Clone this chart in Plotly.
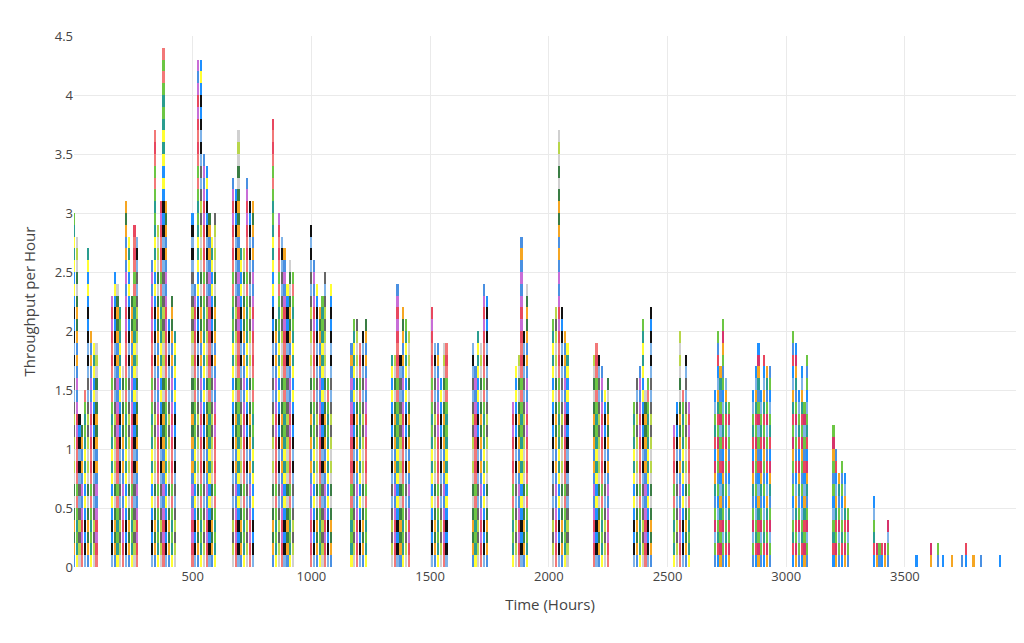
import plotly.graph_objects as go

cluster_starts = [0, 160, 330, 500, 670, 840, 1000, 1170, 1340, 1510, 1680, 1850,
                  2020, 2190, 2360, 2530, 2700, 2860, 3030, 3200, 3370]
cluster_heights = [
    [3.0, 2.8, 1.3, 1.2, 1.5, 2.7, 2.0, 1.9, 1.9],
    [2.3, 2.5, 2.4, 2.2, 1.7, 3.1, 2.8, 2.3, 2.9, 2.8],
    [2.6, 3.7, 2.9, 3.1, 4.4, 3.1, 2.1, 2.3, 2.0],
    [3.0, 2.4, 4.3, 4.3, 3.5, 3.4, 3.0, 2.8, 3.0],
    [3.3, 3.2, 3.7, 2.7, 2.7, 3.3, 3.1, 3.1],
    [3.8, 2.1, 3.0, 2.8, 2.7, 2.4, 2.6, 2.5],
    [2.9, 2.6, 2.4, 2.2, 2.3, 2.5, 1.6, 2.4],
    [1.9, 2.1, 2.1, 1.9, 2.0, 2.1],
    [1.8, 1.8, 2.4, 1.8, 2.2, 2.1, 2.0],
    [2.2, 1.9, 1.9, 1.6, 1.9, 1.9],
    [1.9, 1.7, 2.0, 1.9, 2.4, 2.3],
    [1.4, 1.7, 1.8, 2.8, 2.0, 2.4],
    [2.1, 2.2, 3.7, 2.2, 2.0, 1.9],
    [1.8, 1.9, 1.8, 1.7, 1.5, 1.6],
    [1.4, 1.6, 1.7, 2.1, 1.5, 1.6, 2.2],
    [1.2, 1.4, 2.0, 1.5, 1.8, 1.4],
    [1.5, 2.0, 1.7, 2.1, 1.6, 1.4],
    [1.5, 1.7, 1.9, 1.5, 1.8, 1.7, 1.7],
    [2.0, 1.9, 1.5, 1.7, 1.4, 1.8],
    [1.2, 1.0, 0.8, 0.9, 0.8, 0.5],
    [0.6, 0.2, 0.2, 0.2, 0.2, 0.4],
]
sparse_hours = [3550, 3610, 3640, 3660, 3700, 3740, 3760, 3790, 3820, 3900, 3975]
sparse_heights = [0.1, 0.2, 0.2, 0.1, 0.1, 0.1, 0.2, 0.1, 0.1, 0.1, 0.1]

palette_early = ['#4a90e2', '#e8475f', '#6cc644', '#ffff33', '#111111', '#666666',
                 '#d0d0d0', '#f5a623', '#c86dd7', '#f27878', '#2a9d8f', '#1e90ff',
                 '#7fb3e8', '#b8d64a', '#3a7d44']
palette_late = ['#4a90e2', '#e8475f', '#6cc644', '#1e90ff', '#d6336c', '#7fb3e8',
                '#f5a623', '#6cc644', '#2a9d8f']

SPACING = 12
hours, totals, late = [], [], []
for ci, (s, hs) in enumerate(zip(cluster_starts, cluster_heights)):
    for j, h in enumerate(hs):
        hours.append(s + SPACING * j)
        totals.append(h)
        late.append(s >= 2700)
for s, h in zip(sparse_hours, sparse_heights):
    hours.append(s); totals.append(h); late.append(True)

fig = go.Figure()
nlayers = int(round(max(totals) * 10))
for k in range(nlayers):
    xs, ys, cs = [], [], []
    for i, (x, t) in enumerate(zip(hours, totals)):
        if int(round(t * 10)) > k:
            pal = palette_late if late[i] else palette_early
            xs.append(x); ys.append(0.1)
            cs.append(pal[(k * 7 + i * 3 + (k // 3)) % len(pal)])
    fig.add_trace(go.Bar(x=xs, y=ys, width=7, marker=dict(color=cs, line=dict(width=0)),
                         showlegend=False, hoverinfo='skip'))

fig.update_layout(
    barmode='stack', width=1024, height=643,
    margin=dict(l=66, r=6, t=28, b=84),
    plot_bgcolor='white', paper_bgcolor='white',
    font=dict(family='Open Sans, Arial', color='#444', size=13),
    xaxis=dict(range=[0, 4010], tickvals=[500, 1000, 1500, 2000, 2500, 3000, 3500],
               showgrid=True, gridcolor='#eaeaea', zeroline=False,
               title=dict(text='Time (Hours)', font=dict(size=15))),
    yaxis=dict(range=[0, 4.5], dtick=0.5, showgrid=True, gridcolor='#eaeaea',
               zeroline=False, title=dict(text='Throughput per Hour', font=dict(size=15))),
)
fig.write_html('out.html')
